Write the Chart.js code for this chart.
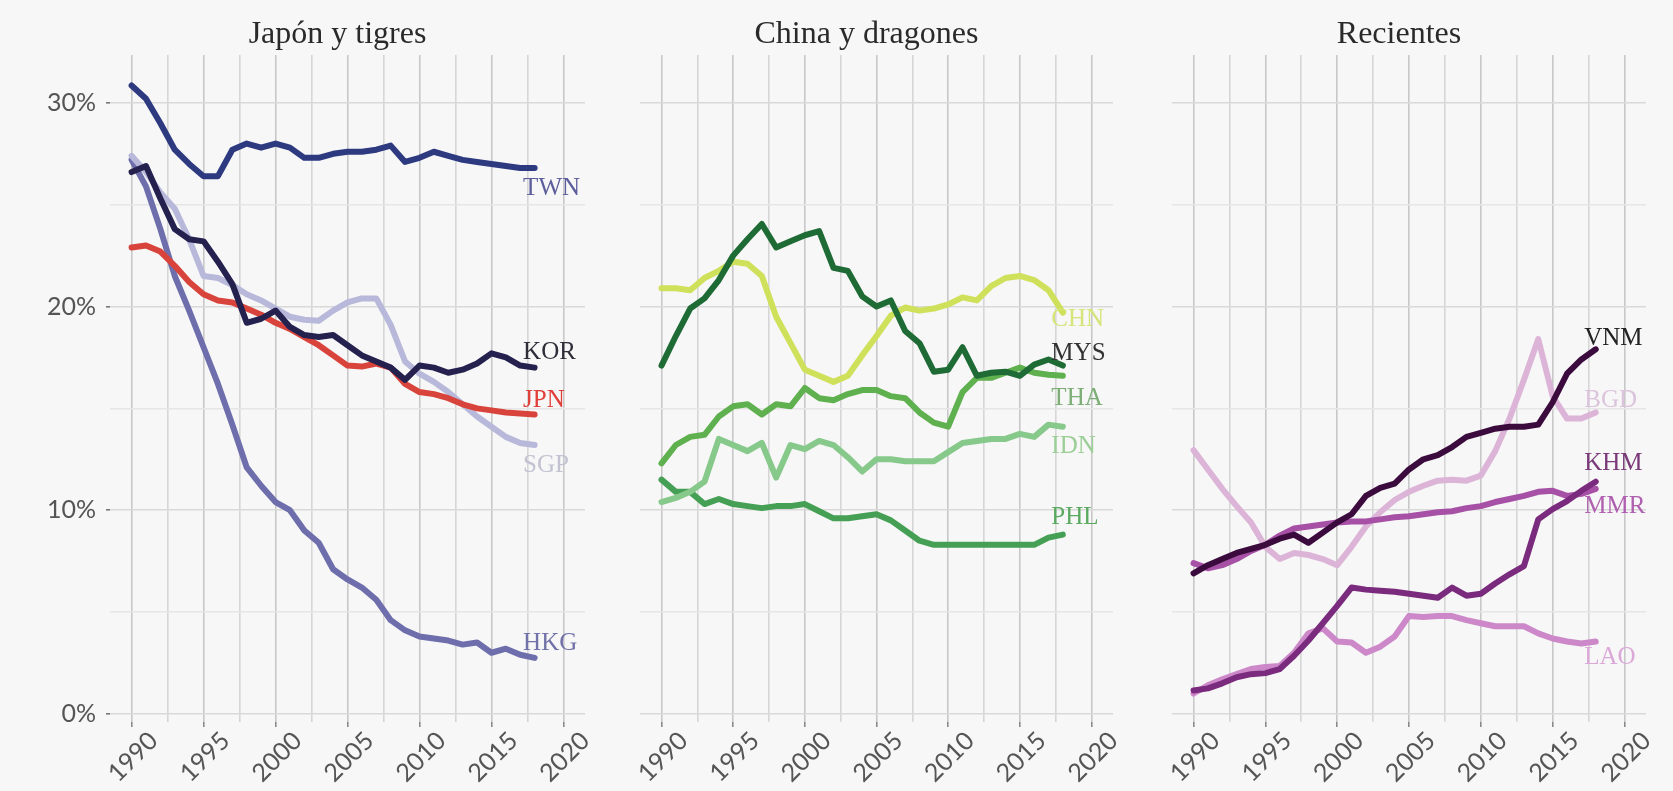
<!DOCTYPE html>
<html>
<head>
<meta charset="utf-8">
<script src="https://cdn.jsdelivr.net/npm/chart.js@4.4.1/dist/chart.umd.min.js"></script>
<style>
  html, body { margin: 0; padding: 0; background: #f7f7f7; }
  #wrap { position: relative; width: 1673px; height: 791px; overflow: hidden; }
  canvas { position: absolute; top: 0; }
</style>
</head>
<body>
<div id="wrap">
  <canvas id="p1" width="600" height="791" style="left:0px"></canvas>
  <canvas id="p2" width="530" height="791" style="left:600px"></canvas>
  <canvas id="p3" width="543" height="791" style="left:1130px"></canvas>
</div>
<script>
// years on the x axis
const years = [1990, 1991, 1992, 1993, 1994, 1995, 1996, 1997, 1998, 1999,
               2000, 2001, 2002, 2003, 2004, 2005, 2006, 2007, 2008, 2009,
               2010, 2011, 2012, 2013, 2014, 2015, 2016, 2017, 2018];
const xTicks = [1990, 1992.5, 1995, 1997.5, 2000, 2002.5, 2005, 2007.5, 2010, 2012.5, 2015, 2017.5, 2020];
const yTicks = [0, 5, 10, 15, 20, 25, 30];

// Japón y tigres (%)
const twn = [30.85, 30.2, 29.0, 27.7, 27.0, 26.4, 26.4, 27.7, 28.0, 27.8, 28.0, 27.8, 27.3, 27.3, 27.5, 27.6, 27.6, 27.7, 27.9, 27.1, 27.3, 27.6, 27.4, 27.2, 27.1, 27.0, 26.9, 26.8, 26.8];
const kor = [26.6, 26.9, 25.3, 23.8, 23.3, 23.2, 22.2, 21.1, 19.2, 19.4, 19.8, 19.0, 18.6, 18.5, 18.6, 18.1, 17.6, 17.3, 17.0, 16.4, 17.1, 17.0, 16.75, 16.9, 17.2, 17.7, 17.5, 17.1, 17.0];
const jpn = [22.9, 23.0, 22.7, 22.0, 21.2, 20.6, 20.3, 20.2, 19.9, 19.6, 19.2, 18.9, 18.5, 18.1, 17.6, 17.1, 17.05, 17.2, 17.0, 16.2, 15.8, 15.7, 15.5, 15.2, 15.0, 14.9, 14.8, 14.75, 14.7];
const sgp = [27.4, 26.6, 25.6, 24.8, 23.3, 21.5, 21.4, 21.05, 20.6, 20.3, 19.9, 19.5, 19.35, 19.3, 19.8, 20.2, 20.4, 20.4, 19.1, 17.3, 16.7, 16.3, 15.8, 15.2, 14.6, 14.1, 13.6, 13.3, 13.2];
const hkg = [27.2, 25.9, 23.8, 21.5, 19.8, 18.0, 16.2, 14.2, 12.1, 11.2, 10.4, 10.0, 9.0, 8.4, 7.1, 6.6, 6.2, 5.6, 4.6, 4.1, 3.8, 3.7, 3.6, 3.4, 3.5, 3.0, 3.2, 2.9, 2.75];

// China y dragones (%)
const chn = [20.9, 20.9, 20.8, 21.4, 21.75, 22.2, 22.1, 21.5, 19.5, 18.2, 16.9, 16.6, 16.3, 16.6, 17.6, 18.55, 19.55, 19.95, 19.8, 19.9, 20.1, 20.45, 20.3, 21.0, 21.4, 21.5, 21.3, 20.8, 19.7];
const mys = [17.1, 18.55, 19.9, 20.4, 21.3, 22.5, 23.3, 24.05, 22.9, 23.2, 23.5, 23.7, 21.9, 21.75, 20.5, 20.0, 20.3, 18.8, 18.2, 16.8, 16.9, 18.0, 16.6, 16.75, 16.8, 16.6, 17.15, 17.4, 17.1];
const tha = [12.3, 13.2, 13.6, 13.7, 14.6, 15.1, 15.2, 14.7, 15.2, 15.1, 16.0, 15.5, 15.4, 15.7, 15.9, 15.9, 15.6, 15.5, 14.8, 14.3, 14.1, 15.8, 16.5, 16.5, 16.75, 17.0, 16.75, 16.65, 16.6];
const idn = [10.4, 10.6, 10.9, 11.4, 13.5, 13.2, 12.9, 13.3, 11.6, 13.2, 13.0, 13.4, 13.2, 12.6, 11.9, 12.5, 12.5, 12.4, 12.4, 12.4, 12.85, 13.3, 13.4, 13.5, 13.5, 13.75, 13.6, 14.2, 14.1];
const phl = [11.5, 10.9, 10.9, 10.3, 10.55, 10.3, 10.2, 10.1, 10.2, 10.2, 10.3, 9.95, 9.6, 9.6, 9.7, 9.8, 9.5, 9.0, 8.5, 8.3, 8.3, 8.3, 8.3, 8.3, 8.3, 8.3, 8.3, 8.65, 8.8];

// Recientes (%)
const vnm = [6.9, 7.3, 7.6, 7.9, 8.1, 8.3, 8.6, 8.8, 8.4, 8.9, 9.4, 9.8, 10.7, 11.1, 11.3, 12.0, 12.5, 12.7, 13.1, 13.6, 13.8, 14.0, 14.1, 14.1, 14.2, 15.3, 16.7, 17.4, 17.9];
const bgd = [12.95, 12.0, 11.05, 10.2, 9.4, 8.2, 7.6, 7.9, 7.8, 7.6, 7.3, 8.2, 9.2, 9.9, 10.5, 10.9, 11.2, 11.45, 11.5, 11.45, 11.7, 12.9, 14.5, 16.4, 18.4, 15.6, 14.5, 14.5, 14.8];
const khm = [1.15, 1.25, 1.5, 1.8, 1.95, 2.0, 2.2, 2.85, 3.6, 4.45, 5.3, 6.2, 6.1, 6.05, 6.0, 5.9, 5.8, 5.7, 6.2, 5.8, 5.9, 6.4, 6.85, 7.25, 9.55, 10.05, 10.45, 10.95, 11.4];
const mmr = [7.4, 7.15, 7.3, 7.6, 8.0, 8.3, 8.75, 9.1, 9.2, 9.3, 9.4, 9.45, 9.45, 9.55, 9.65, 9.7, 9.8, 9.9, 9.95, 10.1, 10.2, 10.4, 10.55, 10.7, 10.9, 10.95, 10.7, 10.8, 11.05];
const lao = [1.0, 1.4, 1.7, 1.95, 2.2, 2.3, 2.35, 3.0, 3.95, 4.2, 3.55, 3.5, 3.0, 3.3, 3.8, 4.8, 4.75, 4.8, 4.8, 4.6, 4.45, 4.3, 4.3, 4.3, 3.95, 3.7, 3.55, 3.45, 3.55];

// end labels: where the country code sits (year, %)
const labelYear = 2017.2;
const labels1 = [['TWN', 25.8], ['KOR', 17.75], ['JPN', 15.4], ['SGP', 12.2], ['HKG', 3.45]];
const labels2 = [['CHN', 19.35], ['MYS', 17.7], ['THA', 15.5], ['IDN', 13.15], ['PHL', 9.65]];
const labels3 = [['VNM', 18.45], ['BGD', 15.4], ['KHM', 12.3], ['MMR', 10.2], ['LAO', 2.75]];

const tickFont = {family: 'Lato', size: 25};

const endLabels = {
    id: 'endLabels',
    afterDatasetsDraw(chart, args, opts) {
        const {ctx, scales} = chart;
        ctx.save();
        ctx.font = '25px "Liberation Serif"';
        ctx.textAlign = 'left';
        ctx.textBaseline = 'middle';
        for (const [txt, v, col] of opts.items) {
            ctx.fillStyle = col;
            ctx.fillText(txt, scales.x.getPixelForValue(labelYear), scales.y.getPixelForValue(v));
        }
        ctx.restore();
    }
};

const panelTitle = {
    id: 'panelTitle',
    afterDraw(chart, args, opts) {
        const {ctx, chartArea} = chart;
        ctx.save();
        ctx.font = '32px "Liberation Serif"';
        ctx.fillStyle = '#2a2a2a';
        ctx.textAlign = 'center';
        ctx.textBaseline = 'alphabetic';
        ctx.fillText(opts.text, (chartArea.left + chartArea.right) / 2 - 10, 43);
        ctx.restore();
    }
};

function buildPanel(id, title, series, labelItems, showY, yWidth, padRight) {
    const datasets = series.map(s => ({
        label: s[0],
        data: years.map((yr, i) => ({x: yr, y: s[1][i]})),
        borderColor: s[2],
        borderWidth: 6,
        borderCapStyle: 'round',
        borderJoinStyle: 'round',
        pointRadius: 0,
        tension: 0,
        fill: false
    }));
    const isMajorX = v => v % 5 === 0;
    const isMajorY = v => v % 10 === 0;
    const config = {
        type: 'line',
        data: {datasets},
        options: {
            responsive: false,
            animation: false,
            layout: {padding: {top: 55, right: padRight, left: 0, bottom: 0}},
            plugins: {
                legend: {display: false},
                tooltip: {enabled: false},
                endLabels: {items: labelItems},
                panelTitle: {text: title}
            },
            scales: {
                x: {
                    type: 'linear',
                    min: 1988.5,
                    max: 2021.5,
                    afterBuildTicks: sc => { sc.ticks = xTicks.map(v => ({value: v})); },
                    afterFit: sc => { sc.height = 69; },
                    border: {display: false},
                    grid: {
                        color: c => isMajorX(c.tick.value) ? '#c8c8c8' : '#d6d6d6',
                        lineWidth: 1.6,
                        tickLength: 5,
                        tickColor: c => isMajorX(c.tick.value) ? '#8a8a8a' : 'rgba(0,0,0,0)'
                    },
                    ticks: {
                        autoSkip: false,
                        minRotation: 45,
                        maxRotation: 45,
                        labelOffset: 22,
                        padding: -1,
                        color: '#555',
                        font: tickFont,
                        callback: v => isMajorX(v) ? String(v) : ''
                    }
                },
                y: {
                    type: 'linear',
                    min: -0.4,
                    max: 32.35,
                    afterBuildTicks: sc => { sc.ticks = yTicks.map(v => ({value: v})); },
                    afterFit: sc => { sc.width = yWidth; },
                    border: {display: false},
                    grid: {
                        color: c => isMajorY(c.tick.value) ? '#d9d9d9' : '#e6e6e6',
                        lineWidth: 1.6,
                        drawTicks: showY,
                        tickLength: 4,
                        tickColor: c => isMajorY(c.tick.value) ? '#777' : 'rgba(0,0,0,0)'
                    },
                    ticks: {
                        display: showY,
                        padding: 10,
                        color: '#555',
                        font: tickFont,
                        callback: v => isMajorY(v) ? v + '%' : ''
                    }
                }
            }
        },
        plugins: [endLabels, panelTitle]
    };
    return new Chart(document.getElementById(id), config);
}

buildPanel('p1', 'Japón y tigres', [
    ['TWN', twn, '#2e3a80'],
    ['KOR', kor, '#24214f'],
    ['JPN', jpn, '#d8443c'],
    ['SGP', sgp, '#b8b8da'],
    ['HKG', hkg, '#6e6eac']
], [
    [labels1[0][0], labels1[0][1], '#5d5f9c'],
    [labels1[1][0], labels1[1][1], '#2e2e3a'],
    [labels1[2][0], labels1[2][1], '#e0403a'],
    [labels1[3][0], labels1[3][1], '#c2c2d2'],
    [labels1[4][0], labels1[4][1], '#7272aa']
], true, 110, 15);

buildPanel('p2', 'China y dragones', [
    ['MYS', mys, '#1e6b35'],
    ['CHN', chn, '#cfe05a'],
    ['THA', tha, '#5fb04e'],
    ['IDN', idn, '#86c98a'],
    ['PHL', phl, '#45a055']
], [
    [labels2[0][0], labels2[0][1], '#d6e47a'],
    [labels2[1][0], labels2[1][1], '#333333'],
    [labels2[2][0], labels2[2][1], '#7cae76'],
    [labels2[3][0], labels2[3][1], '#9ccf98'],
    [labels2[4][0], labels2[4][1], '#5aaa60']
], false, 40, 17);

buildPanel('p3', 'Recientes', [
    ['VNM', vnm, '#3b0b3e'],
    ['KHM', khm, '#7b2b7e'],
    ['MMR', mmr, '#a650a6'],
    ['BGD', bgd, '#dcb4d8'],
    ['LAO', lao, '#cc88c8']
], [
    [labels3[0][0], labels3[0][1], '#222222'],
    [labels3[1][0], labels3[1][1], '#dcc4dc'],
    [labels3[2][0], labels3[2][1], '#7a3a7a'],
    [labels3[3][0], labels3[3][1], '#b060b0'],
    [labels3[4][0], labels3[4][1], '#dba8d8']
], false, 42, 27);
</script>
</body>
</html>
